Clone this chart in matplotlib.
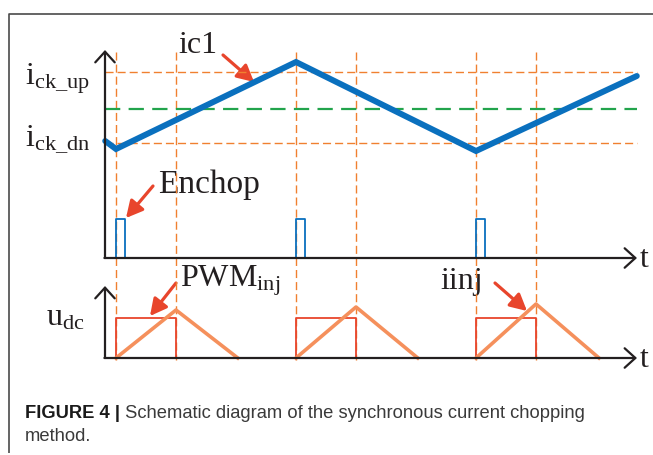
import matplotlib
matplotlib.use("Agg")
import matplotlib.pyplot as plt

plt.rcParams["mathtext.fontset"] = "custom"
plt.rcParams["mathtext.rm"] = "Liberation Serif"
plt.rcParams["mathtext.it"] = "Liberation Serif:italic"
plt.rcParams["lines.scale_dashes"] = False

W, H = 653, 455

# ---- schematic data -------------------------------------------------------
# switching instants (time units), marked by vertical guide lines
switch_t = [0, 1, 3, 4, 6, 7]

# capacitor current ic1 and its thresholds (top panel units)
ic1_t = [-0.18, 0, 3, 6, 8.68]
ic1_val = [2.34, 2.18, 3.92, 2.14, 3.64]
i_ck_dn = 2.30
i_ck_up = 3.72
i_ref = 2.98

# Enchop enable pulses
chop_t = [0, 3, 6]
chop_width = 0.15
chop_level = 0.78

# PWM_inj windows and injected current iinj (bottom panel units)
pwm_start = [0, 3, 6]
pwm_end = [1, 4, 7]
pwm_level = 0.80
iinj_start = [0, 3, 6]
iinj_peak_t = [1, 4, 7]
iinj_end = [2.03, 5.03, 8.05]
iinj_peak = [0.96, 1.02, 1.08]

t_min, t_max = -11 / 60, 521 / 60
top_ymax, bot_ymax = 4.16, 1.44

# ---- colours --------------------------------------------------------------
C_AXIS = "#231f20"
C_GUIDE = "#f08030"
C_GREEN = "#22a44c"
C_BLUE = "#0a70be"
C_RED = "#e8452c"
C_IINJ = "#f5905c"

fig = plt.figure(figsize=(W / 100, H / 100), dpi=100)
fig.patch.set_facecolor("white")

base = fig.add_axes([0, 0, 1, 1])
base.set_xlim(0, W)
base.set_ylim(H, 0)
base.axis("off")


def panel(x0, x1, ytop, ybot):
    ax = fig.add_axes([x0 / W, 1 - ybot / H, (x1 - x0) / W, (ybot - ytop) / H])
    ax.axis("off")
    ax.patch.set_alpha(0)
    return ax


top = panel(105, 637, 50, 258)
top.set_xlim(t_min, t_max)
top.set_ylim(0, top_ymax)

bot = panel(105, 637, 286, 358)
bot.set_xlim(t_min, t_max)
bot.set_ylim(0, bot_ymax)


def axis_arrows(ax, ymax):
    style = dict(arrowstyle="->,head_length=0.55,head_width=0.5", lw=1.6,
                 color=C_AXIS, mutation_scale=14, shrinkA=0, shrinkB=0)
    ax.annotate("", xy=(t_min, ymax), xytext=(t_min, 0), arrowprops=style,
                annotation_clip=False)
    ax.annotate("", xy=(t_max, 0), xytext=(t_min - 0.01, 0), arrowprops=style,
                annotation_clip=False)


# guide lines
for t in switch_t:
    top.plot([t, t], [4.12, -2.04], color=C_GUIDE, lw=1.0, dashes=(5.8, 2.9),
             clip_on=False, zorder=1)
for lvl in (i_ck_up, i_ck_dn):
    top.plot([t_min, t_max], [lvl, lvl], color=C_GUIDE, lw=1.0,
             dashes=(5.8, 2.9), clip_on=False, zorder=1)
top.plot([t_min, t_max], [i_ref, i_ref], color=C_GREEN, lw=1.6,
         dashes=(11, 6), clip_on=False, zorder=1)

# ic1
top.plot(ic1_t, ic1_val, color=C_BLUE, lw=4.3, solid_capstyle="round",
         solid_joinstyle="miter", clip_on=False, zorder=3)

# Enchop pulses
for t0 in chop_t:
    top.plot([t0, t0, t0 + chop_width, t0 + chop_width],
             [0, chop_level, chop_level, 0], color=C_BLUE, lw=1.3,
             clip_on=False, zorder=2)

axis_arrows(top, top_ymax)

# PWM_inj windows
for s, e in zip(pwm_start, pwm_end):
    bot.plot([s, s, e, e], [0, pwm_level, pwm_level, 0], color=C_RED, lw=1.3,
             clip_on=False, zorder=2)
# iinj triangles
for s, p, e, h in zip(iinj_start, iinj_peak_t, iinj_end, iinj_peak):
    bot.plot([s, p, e], [0, h, 0], color=C_IINJ, lw=2.6, clip_on=False,
             zorder=3)

axis_arrows(bot, bot_ymax)

# ---- labels ---------------------------------------------------------------
serif = dict(family="Liberation Serif", color="#231f20", va="baseline")
base.text(25, 84, r"$\mathrm{i}_{\mathrm{ck\_up}}$", fontsize=23, **serif)
base.text(25, 146, r"$\mathrm{i}_{\mathrm{ck\_dn}}$", fontsize=23, **serif)
base.text(178, 53, "ic1", fontsize=23, **serif)
base.text(158, 193, "Enchop", fontsize=24, **serif)
base.text(180, 287, r"$\mathrm{PWM}_{\mathrm{inj}}$", fontsize=23, **serif)
base.text(440, 289, "iinj", fontsize=23, **serif)
base.text(46, 325, r"$\mathrm{u}_{\mathrm{dc}}$", fontsize=23, **serif)
base.text(640, 267, "t", fontsize=23, **serif)
base.text(640, 367, "t", fontsize=23, **serif)

pointer = dict(arrowstyle="-|>,head_length=0.5,head_width=0.26", color=C_RED,
               lw=2.3, mutation_scale=20, shrinkA=0, shrinkB=0)
base.annotate("", xy=(254, 82), xytext=(223, 55), arrowprops=pointer)
base.annotate("", xy=(126, 218), xytext=(153, 186), arrowprops=pointer)
base.annotate("", xy=(150, 316), xytext=(176, 283), arrowprops=pointer)
base.annotate("", xy=(527, 311), xytext=(495, 283), arrowprops=pointer)

# frame
base.plot([8.5, 8.5, W], [453, 13.5, 13.5], color="#4a4a4a", lw=1.2,
          solid_capstyle="butt")

# caption
cap_size = 13.2
cap = base.text(25, 418, "FIGURE 4 |", fontsize=cap_size, fontweight="bold",
                family="Liberation Sans", color="#1a1a1a", va="baseline")
base.annotate(" Schematic diagram of the synchronous current chopping",
              xy=(1, 418), xycoords=(cap, "data"), fontsize=cap_size,
              family="Liberation Sans", color="#3a3a3a", va="baseline")
base.text(25, 441, "method.", fontsize=cap_size, family="Liberation Sans",
          color="#3a3a3a", va="baseline")

fig.savefig("out.png", dpi=100, facecolor="white")
